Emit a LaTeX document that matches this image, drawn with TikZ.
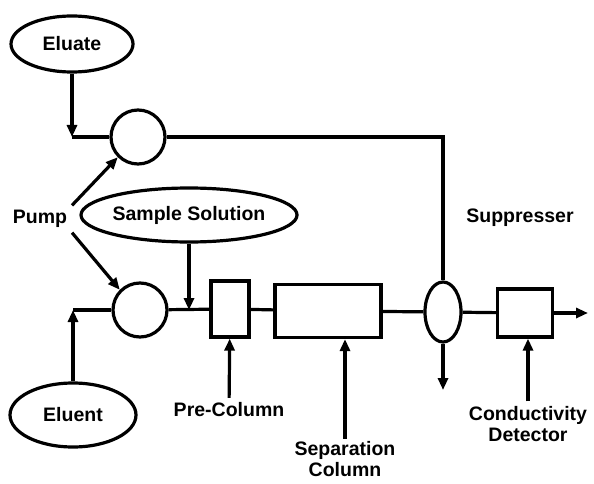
\documentclass[tikz,border=0pt]{standalone}
\usepackage{fontspec}
\setmainfont{Liberation Sans}
\usetikzlibrary{arrows.meta, shapes.geometric}

\begin{document}
\begin{tikzpicture}[x=1pt,y=-1pt,line width=3.2pt,
    font=\fontsize{19.5}{21}\selectfont\bfseries,
    >={Triangle[length=12pt,width=10pt]},
    tank/.style={ellipse,draw,inner sep=0pt},
    pumpc/.style={circle,draw,minimum size=54pt,inner sep=0pt},
    unit/.style={rectangle,draw,inner sep=0pt}]
    \useasboundingbox (0,0) rectangle (594,484);
    \node[tank,minimum width=122pt,minimum height=56pt] (eluate) at (72,44) {Eluate};
    \node[tank,minimum width=126pt,minimum height=64pt] (eluent) at (73,415) {Eluent};
    \node[tank,minimum width=212pt,minimum height=54pt] (sample) at (189,215) {Sample Solution};
    \node[pumpc] (pumpA) at (138,137) {};
    \node[pumpc] (pumpB) at (140,310) {};
    \node (pump) at (40,219) {Pump};
    \node[unit,minimum width=38pt,minimum height=56pt] (precol) at (230,309) {};
    \node[unit,minimum width=106pt,minimum height=53pt] (sepcol) at (328,311) {};
    \node[tank,minimum width=36pt,minimum height=60pt] (supp) at (443,312) {};
    \node[unit,minimum width=55pt,minimum height=48pt] (det) at (525,313) {};
    \node (precollab) at (229,410) {Pre-Column};
    \node[align=center,inner sep=1pt] (seplab) at (345,459) {Separation\\Column};
    \node (supplab) at (520,218) {Suppresser};
    \node[align=center] (detlab) at (528,424) {Conductivity\\Detector};
    \coordinate (cA) at (72,137);
    \coordinate (cB) at (73,310);
    \coordinate (cS) at (189,310);
    \coordinate (waste) at (443,390);
    \coordinate (out) at (588,313);
    \draw[->] (eluate) -- (cA);
    \draw (cA) -- (pumpA);
    \draw (pumpA) -| (supp);
    \draw[->] (eluent) -- (cB);
    \draw (cB) -- (pumpB);
    \draw[->] (pump.north east) -- (pumpA.225);
    \draw[->] (pump.south east) -- (pumpB.135);
    \draw[->] (sample) -- (cS);
    \draw (pumpB) -- (precol);
    \draw (precol) -- (sepcol);
    \draw (sepcol) -- (supp);
    \draw (supp) -- (det);
    \draw[->] (supp) -- (waste);
    \draw[->] (det) -- (out);
    \draw[->] (precollab) -- (precol);
    \draw[->] (seplab.north) -- (seplab.north |- sepcol.south);
    \draw[->] (detlab) -- (detlab |- det.south);
\end{tikzpicture}
\end{document}
